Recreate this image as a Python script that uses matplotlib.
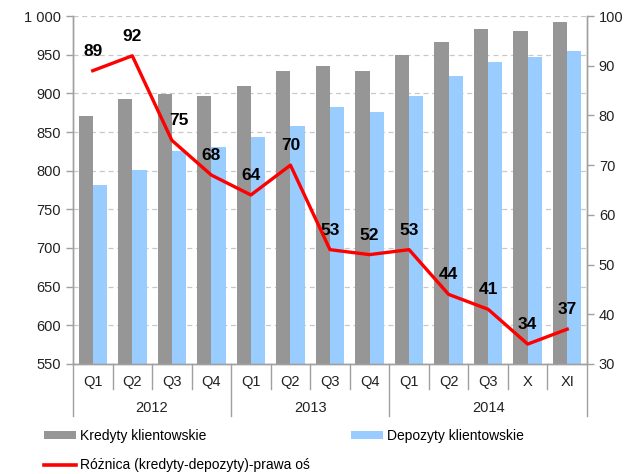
import matplotlib
matplotlib.use("Agg")
import matplotlib.pyplot as plt
from matplotlib.ticker import FuncFormatter, MultipleLocator
from matplotlib.lines import Line2D
from matplotlib.patches import Patch
import matplotlib.transforms as mtransforms
import numpy as np

plt.rcParams['font.family'] = ['Liberation Sans', 'DejaVu Sans']

categories = ["Q1", "Q2", "Q3", "Q4", "Q1", "Q2", "Q3", "Q4", "Q1", "Q2", "Q3", "X", "XI"]
years = ["2012", "2013", "2014"]
year_counts = [4, 4, 5]
kredyty = [871, 893, 899, 896, 909, 929, 935, 929, 949, 966, 983, 981, 992]
depozyty = [782, 801, 825, 830, 844, 858, 882, 876, 896, 922, 941, 947, 955]
roznica = [89, 92, 75, 68, 64, 70, 53, 52, 53, 44, 41, 34, 37]

GRAY = "#969696"
BLUE = "#99CCFF"
RED = "#FF0000"
AXC = "#A0A0A0"

fig = plt.figure(figsize=(6.43, 4.74), dpi=100)
ax = fig.add_axes([0.1135, 0.2321, 0.7994, 0.7341])
ax2 = ax.twinx()

x = np.arange(len(categories))
w = 0.36
ax.bar(x - w / 2, kredyty, width=w, color=GRAY, zorder=2)
ax.bar(x + w / 2, depozyty, width=w, color=BLUE, zorder=2)

ax.set_xlim(-0.5, len(categories) - 0.5)
ax.set_ylim(550, 1000)
ax.yaxis.set_major_locator(MultipleLocator(50))
ax.yaxis.set_major_formatter(FuncFormatter(lambda v, p: f"{v:,.0f}".replace(",", " ")))
ax.grid(axis='y', linestyle=(0, (4, 3)), color="#C8C8C8", linewidth=0.9, zorder=0)
ax.set_axisbelow(True)

ax2.set_ylim(30, 100)
ax2.yaxis.set_major_locator(MultipleLocator(10))
ax2.plot(x, roznica, color=RED, linewidth=2.4, zorder=5)

offsets = {2: (5, 0)}
for i, v in enumerate(roznica):
    dx, dy = offsets.get(i, (0, 0))
    ax2.annotate(str(v), (x[i], v), xytext=(dx, 14 + dy), textcoords='offset points',
                 ha='center', va='center', fontsize=12.5, fontweight='bold', color='black')

for a in (ax, ax2):
    a.spines['top'].set_visible(False)
    for s in ('left', 'right', 'bottom'):
        a.spines[s].set_color(AXC)
        a.spines[s].set_linewidth(1.0)
    a.tick_params(axis='y', colors=AXC, labelcolor='#222222', labelsize=10.5, length=5, width=1)

ax.set_xticks(x)
ax.set_xticklabels(categories)
ax.tick_params(axis='x', length=0, labelsize=10.5, labelcolor='#222222', pad=8)

# separators for two-level category axis
trans = mtransforms.blended_transform_factory(ax.transData, ax.transAxes)
ax_h_px = 0.7341 * 474
short = 25 / ax_h_px
long_ = 52 / ax_h_px
boundaries = [b - 0.5 for b in range(len(categories) + 1)]
year_bounds = [-0.5] + list(np.cumsum(year_counts) - 0.5)
for b in boundaries:
    ln = long_ if b in year_bounds else short
    ax.add_line(Line2D([b, b], [0, -ln], transform=trans, color=AXC, linewidth=1.0, clip_on=False))
start = -0.5
for yname, cnt in zip(years, year_counts):
    ax.text(start + cnt / 2, -44 / ax_h_px, yname, transform=trans, ha='center', va='center',
            fontsize=10.5, color='#222222')
    start += cnt

handles = [Patch(facecolor=GRAY, edgecolor='none'),
           Line2D([0], [0], color=RED, linewidth=2.6),
           Patch(facecolor=BLUE, edgecolor='none')]
labels = ["Kredyty klientowskie", "Różnica (kredyty-depozyty)-prawa oś", "Depozyty klientowskie"]
fig.legend(handles, labels, ncol=2, loc='upper left', bbox_to_anchor=(0.069, 0.095),
           frameon=False, fontsize=10, handlelength=2.3, handleheight=0.6, handletextpad=0.25,
           columnspacing=3.0, labelspacing=1.1, borderaxespad=0, borderpad=0)

fig.savefig("out.png", dpi=100)
